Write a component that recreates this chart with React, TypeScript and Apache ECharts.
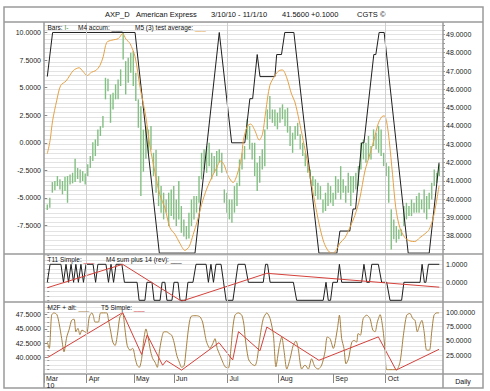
import React, { useEffect, useRef } from "react";
import * as echarts from "echarts";

const FONT = '"Liberation Sans", Arial, Helvetica, sans-serif';

// ---- price bars (right axis, top panel), one per trading day in order ----
const barHigh = [
  39.71, 40.07, 40.93, 40.99, 41.26, 41.08, 40.99, 41.22, 41.26, 41.35,
  41.44, 42.2, 41.7, 41.62, 41.53, 41.4, 41.9, 42.35, 43.1, 43.26,
  43.8, 43.99, 44.54, 46.63, 46.58, 45.72, 45.81, 46.27, 46.54, 47.09,
  49.09, 47.54, 47.73, 48.0, 48.09, 46.9, 45.45, 45.08, 43.8, 44.0,
  43.8, 44.0, 42.53, 42.7, 41.26, 40.71, 40.35, 39.98, 40.35, 40.53,
  40.71, 39.98, 40.99, 39.62, 38.89, 38.53, 39.26, 39.98, 40.17, 40.17,
  41.26, 42.53, 42.72, 42.9, 43.08, 42.53, 42.35, 42.63, 42.72, 42.53,
  40.53, 40.35, 39.98, 39.98, 40.71, 40.9, 42.17, 42.53, 42.9, 44.36,
  44.0, 43.08, 43.08, 41.99, 42.35, 42.72, 43.81, 44.9, 45.63, 44.9,
  44.9, 44.72, 44.99, 45.18, 44.9, 44.99, 44.0, 43.63, 44.0, 44.17,
  43.54, 43.08, 42.53, 41.99, 41.62, 41.26, 41.08, 40.9, 40.71, 39.98,
  40.35, 40.9, 40.71, 40.35, 41.26, 41.08, 41.8, 41.08, 40.71, 41.44,
  41.26, 41.26, 41.44, 41.8, 43.08, 43.26, 43.08, 43.45, 42.9, 43.81,
  43.63, 44.0, 43.81, 42.53, 41.99, 41.8, 39.44, 38.89, 38.53, 38.34,
  38.34, 39.62, 39.8, 39.62, 39.98, 39.8, 40.17, 40.35, 39.98, 40.53,
  40.17, 40.35, 40.9, 41.62, 41.44, 41.9,
];
const barLow = [
  39.4, 39.53, 40.35, 40.49, 40.71, 40.53, 40.26, 40.44, 39.8, 40.8,
  40.86, 40.93, 41.1, 40.9, 40.99, 40.8, 41.26, 41.7, 42.08, 42.35,
  42.9, 43.45, 43.9, 45.45, 45.9, 44.17, 44.9, 45.45, 45.45, 46.18,
  47.63, 45.72, 46.36, 46.9, 46.18, 45.36, 43.9, 40.17, 41.5, 42.2,
  42.5, 42.7, 41.26, 40.35, 39.62, 39.26, 38.89, 39.26, 38.53, 39.07,
  38.89, 38.53, 38.89, 38.16, 37.95, 37.8, 37.85, 38.53, 38.89, 39.26,
  39.8, 41.08, 41.62, 41.44, 41.8, 41.08, 41.44, 41.26, 41.99, 41.44,
  39.8, 39.26, 38.89, 38.71, 39.26, 39.62, 40.71, 41.62, 42.17, 43.26,
  42.72, 42.17, 41.26, 40.44, 40.9, 41.62, 41.8, 43.81, 44.36, 44.17,
  44.0, 43.81, 44.17, 44.36, 44.0, 43.63, 42.9, 42.53, 43.26, 43.45,
  42.72, 42.35, 41.8, 41.44, 41.08, 40.71, 40.17, 39.98, 39.98, 39.26,
  39.35, 39.62, 39.8, 39.62, 39.98, 40.35, 39.98, 40.35, 39.8, 40.35,
  39.62, 40.35, 40.53, 40.71, 41.62, 42.17, 41.99, 42.17, 42.17, 42.9,
  42.72, 42.53, 42.35, 41.8, 41.26, 39.8, 37.25, 37.8, 37.62, 37.8,
  37.98, 38.53, 38.89, 39.07, 39.07, 39.26, 39.26, 39.26, 39.44, 39.26,
  38.89, 39.44, 39.98, 40.71, 40.9, 41.26,
];

// ---- top panel oscillators (left axis), [bar index, value] ----
const m4Accum = [
  [0, 6], [2.1, 10], [34.7, 10], [44.3, -10], [58.4, -10], [68, 10], [72.9, 0], [78.1, 0],
  [80.1, 4], [81.2, 4], [83, 8], [84.1, 6], [90, 6], [90.7, 8], [92.6, 8], [93.9, 10],
  [97.5, 10], [107.4, -10], [114.5, -10], [115.7, -8], [119.6, -8], [120.9, -6], [121.9, -6],
  [124.3, 0], [125.2, 0], [129.1, 8], [129.9, 8], [131.2, 10], [133.2, 10], [142.7, -10],
  [151, -10], [154.9, -1.8],
];
const m5TestAvg = [
  [0, -1.0], [1.1, 0.2], [2.1, 2.0], [3.7, 3.8], [5.3, 5.2], [7.4, 5.6], [10.3, 6.55],
  [12.6, 6.8], [14.0, 6.5], [15.8, 6.1], [17.5, 6.4], [19.2, 6.55], [20.8, 7.0], [22.1, 7.8],
  [23.5, 9.1], [25.5, 9.3], [28.1, 9.45], [29.8, 9.9], [31.1, 9.4], [32.7, 9.0], [34.7, 7.8],
  [36.7, 5.0], [38.2, 3.3], [39.0, 2.3], [40.6, -0.3], [42.6, -2.7], [44.5, -4.7], [46.5, -5.9],
  [48.5, -7.7], [50.5, -8.3], [52.4, -9.1], [54.4, -9.75], [56.1, -9.4], [57.7, -8.3],
  [59.3, -7.1], [61.0, -5.6], [63.0, -4.2], [65.0, -3.15], [67.0, -2.25], [68.5, -1.65],
  [69.8, -1.95], [71.5, -3.0], [73.5, -3.6], [75.1, -2.85], [76.8, -1.3], [77.5, 0.2],
  [79.1, 1.5], [80.4, 1.7], [82.1, 1.1], [83.8, 0.25], [85.1, 0.8], [86.4, 2.9], [88.0, 5.2],
  [90.0, 6.1], [91.7, 6.55], [93.0, 6.6], [94.6, 5.95], [96.6, 4.4], [97.9, 3.7], [99.6, 2.0],
  [101.2, 0.2], [102.8, -1.65], [104.5, -3.75], [106.2, -5.9], [107.8, -7.7], [109.4, -9.05],
  [111.1, -9.8], [112.8, -10.05], [114.4, -9.65], [115.7, -9.1], [117.7, -8.6], [119.6, -7.7],
  [121.6, -6.6], [123.6, -5.0], [125.6, -2.55], [127.6, -1.0], [129.1, 0.2], [130.8, 1.7],
  [132.2, 2.35], [133.2, 2.45], [134.1, 2.0], [135.2, 0.2], [136.5, -2.85], [137.8, -5.9],
  [139.4, -7.7], [141.4, -8.6], [143.4, -8.9], [145.3, -8.95], [147.3, -8.6], [149.3, -8.25],
  [151.0, -7.85], [152.6, -6.8], [153.9, -5.3], [154.9, -3.9],
];

// ---- middle panel ----
const m4SumPlus14 = [
  [0, 0], [1.1, 1], [5.4, 1], [6.4, 0], [7.4, 1], [8.4, 0], [9.4, 1], [10.4, 0], [11.3, 1],
  [12.3, 0], [13.3, 1], [14.3, 0], [15.3, 1], [18.1, 1], [19.1, 0], [20.0, 1], [23.2, 1],
  [24.2, 0], [25.2, 1], [26.2, 0], [27.2, 1], [29.5, 1], [30.5, 0], [35.5, 0], [36.3, -1],
  [38.6, -1], [39.4, 0], [41.4, 0], [42.2, -1], [44.6, -1], [45.4, 0], [46.5, 0], [47.3, -1],
  [49.3, -1], [50.1, 0], [51.7, 0], [52.5, -1], [54.8, -1], [55.6, 0], [57.6, 0], [58.8, 1],
  [62.8, 1], [63.7, 0], [64.7, 1], [65.7, 0], [66.7, 1], [68.7, 1], [69.7, 0], [70.7, -1],
  [73.4, -1], [74.4, 0], [75.4, 1], [78.2, 1], [79.5, 0], [85.4, 0], [86.3, 1], [87.1, 1],
  [88.1, 0], [97.3, 0], [98.6, -1], [109.1, -1], [110.2, 0], [111.1, -1], [112.0, -1],
  [112.9, 0], [114.7, 0], [115.5, 1], [116.4, 0], [124.3, 0], [125.2, 1], [126.3, 0],
  [127.4, 0], [128.3, 1], [130.9, 1], [132.2, 0], [134.2, 0], [135.5, -1], [140.1, -1],
  [141.0, 0], [147.4, 0], [148.2, 1], [149.1, 0], [149.7, 0], [150.7, 1], [155.0, 1],
];
const t11Simple = [[0, -0.3], [29.8, 1.0], [53.1, -1.05], [86.8, 0.5], [155.0, -0.27]];

// ---- bottom panel ----
const m2fAlt = [
  [0, 48], [0.8, 37], [1.7, 95], [2.6, 99], [3.8, 96], [4.7, 80], [5.7, 54], [6.6, 31],
  [7.7, 57], [8.7, 71], [9.6, 86], [10.6, 88], [11.3, 66], [12.1, 72], [12.9, 61], [13.7, 69],
  [14.5, 67], [15.6, 64], [16.6, 92], [17.6, 99], [18.2, 94], [18.9, 83], [20.2, 83],
  [21.1, 99], [23.5, 99], [24.1, 89], [25.1, 66], [25.9, 48], [26.8, 42], [27.7, 60],
  [28.7, 92], [29.8, 98], [30.7, 71], [31.6, 42], [32.7, 34], [33.8, 37], [34.8, 19],
  [35.6, 7], [36.4, 4], [37.3, 19], [38.2, 54], [39.0, 71], [39.9, 55], [40.9, 31],
  [41.7, 19], [42.6, 13], [43.5, 4], [44.3, 31], [45.2, 54], [46.1, 66], [47.2, 66],
  [48.2, 63], [49.2, 60], [50.1, 48], [51.2, 25], [52.2, 13], [53.1, 4], [54.1, 7],
  [54.8, 31], [55.8, 71], [56.7, 92], [57.7, 94], [59.1, 94], [60.4, 92], [61.4, 83],
  [62.4, 60], [63.0, 48], [64.3, 37], [65.4, 45], [66.3, 54], [67.2, 37], [68.3, 25],
  [69.4, 13], [70.3, 5], [71.6, 3], [72.5, 31], [73.3, 71], [74.2, 95], [75.5, 99],
  [76.9, 95], [77.8, 77], [78.2, 57], [79.5, 19], [80.8, 10], [82.1, 7], [83.0, 19],
  [84.1, 57], [85.4, 89], [86.8, 99], [88.1, 89], [89.4, 60], [90.4, 5], [91.7, 40],
  [92.7, 57], [93.6, 33], [94.7, 1], [96.0, 19], [97.2, 42], [98.3, 50], [99.2, 37],
  [100.6, 1], [101.9, 8], [103.2, 1], [104.5, 19], [105.8, 5], [107.1, 1], [108.5, 8],
  [109.8, 31], [110.7, 57], [111.8, 54], [113.1, 37], [114.7, 71], [115.5, 95], [116.4, 54],
  [117.3, 37], [118.1, 10], [119.1, 19], [120.4, 48], [121.3, 51], [122.3, 48], [122.9, 63],
  [123.8, 60], [124.9, 89], [126.3, 95], [127.6, 89], [128.7, 69], [129.6, 66], [130.5, 83],
  [131.6, 96], [132.7, 71], [133.5, 37], [134.2, 0], [135.9, 0], [138.1, 0], [139.5, 14],
  [140.8, 60], [142.1, 95], [143.4, 98], [144.5, 89], [145.4, 86], [146.3, 66], [147.4, 80],
  [148.1, 86], [149.0, 66], [150.0, 34], [151.1, 34], [152.0, 66], [152.9, 95], [154.0, 99],
  [154.9, 99],
];
const t5Simple = [
  [0, 40.0], [29.8, 47.8], [37.3, 40.55], [39.5, 43.95], [45.6, 38.7], [47.1, 39.5],
  [53.1, 37.85], [67.9, 42.6], [73.3, 39.6], [75.6, 44.5], [84.1, 41.2], [86.8, 45.3],
  [107.4, 39.55], [130.9, 43.6], [137.9, 37.85], [154.9, 41.45],
];

// ---- axes: month ticks, quarter lines, tick labels ----
const monthNames = ["Mar", "Apr", "May", "Jun", "Jul", "Aug", "Sep", "Oct"];
const monthPos = [-1.3, 15.6, 34.3, 50.1, 71.3, 91.3, 113.1, 133.8];
const quarterPos = [15.6, 71.3, 133.8];
const topLeftLabels = [-7.5, -5, -2.5, 0, 2.5, 5, 7.5, 10];
const midRightLabels = [0, 1];
const midGridVals = [-1, -0.75, -0.5, -0.25, 0, 0.25, 0.5, 0.75, 1, 1.25, 1.5];
const botLeftLabels = [40, 42.5, 45, 47.5];
const botRightLabels = [25, 50, 75, 100];
const botGridVals = [0, 8.333, 16.667, 25, 33.333, 41.667, 50, 58.333, 66.667, 75, 83.333, 91.667, 100, 108.333, 116.667];

const titleParts = [
  { t: "AXP_D", x: 105 },
  { t: "American Express", x: 136 },
  { t: "3/10/10 - 11/1/10", x: 211 },
  { t: "41.5600", x: 282 },
  { t: "+0.1000", x: 311 },
  { t: "CGTS \u00a9", x: 357 },
];

export default function App() {
  const ref = useRef<HTMLDivElement>(null);
  useEffect(() => {
    if (!ref.current) return;
    const chart = echarts.init(ref.current, undefined, { renderer: "svg" });
    const X_MIN = -1.3;
    const X_MAX = 156.46;
    const fmt4 = (v: any) => Number(v).toFixed(4);
    const labelStyle = { fontSize: 7, color: "#222", fontFamily: FONT };
    const gridLineStyle = { color: "#e3e3e3", width: 1 };

    const qAxis = (gi: number) => ({
      type: "value",
      gridIndex: gi,
      position: gi === 2 ? "top" : "bottom",
      min: X_MIN,
      max: X_MAX,
      axisLine: { show: false },
      axisLabel: { show: false },
      axisTick: { show: false },
      splitLine: { show: false },
    });

    const quarterLines = {
      silent: true,
      symbol: ["none", "none"],
      label: { show: false },
      lineStyle: { color: "#d0d0d0", width: 1, type: "solid" },
      emphasis: { disabled: true },
      data: quarterPos.map((v) => ({ xAxis: v })),
    };

    const lineS = (name: string, data: any, xi: number, yi: number, color: string, extra: any = {}) => ({
      name,
      type: "line",
      xAxisIndex: xi,
      yAxisIndex: yi,
      data,
      symbol: "none",
      lineStyle: { color, width: 1 },
      itemStyle: { color },
      z: 3,
      ...extra,
    });

    const hline = (x1: number, y1: number, x2: number, y2: number, w = 1.5) => ({
      type: "line",
      shape: { x1, y1, x2, y2 },
      style: { stroke: "#9a9a9a", lineWidth: w },
      z: 100,
      silent: true,
    });
    const txt = (text: string, x: number, y: number, size: number, rich?: any, align = "left") => ({
      type: "text",
      x,
      y,
      z: 101,
      silent: true,
      style: {
        text,
        fill: "#111",
        fontSize: size,
        fontFamily: FONT,
        align,
        verticalAlign: "middle",
        rich,
      },
    });
    const u = (c: string) => ({ fill: c, fontSize: 6.5, fontFamily: FONT });

    const option: any = {
      animation: false,
      backgroundColor: "#ffffff",
      grid: [
        { left: 44, top: 22, width: 399, height: 232 },
        { left: 44, top: 254, width: 399, height: 48 },
        { left: 44, top: 302, width: 399, height: 72 },
      ],
      xAxis: [
        qAxis(0),
        qAxis(1),
        qAxis(2),
        {
          type: "value",
          gridIndex: 2,
          position: "bottom",
          min: X_MIN,
          max: X_MAX,
          axisLine: { show: true, lineStyle: { color: "#9a9a9a", width: 1.5 } },
          axisTick: { show: true, customValues: monthPos, length: 9, lineStyle: { color: "#888" } },
          axisLabel: {
            show: true,
            customValues: monthPos,
            align: "left",
            margin: 1,
            padding: [0, 0, 0, 2],
            ...labelStyle,
            formatter: (v: number) => {
              const i = monthPos.findIndex((p) => Math.abs(p - v) < 0.01);
              return i >= 0 ? monthNames[i] : "";
            },
          },
          splitLine: { show: false },
        },
      ],
      yAxis: [
        {
          type: "value",
          gridIndex: 0,
          position: "left",
          min: -10.08,
          max: 10.95,
          axisLine: { show: false },
          axisTick: { show: true, customValues: topLeftLabels, length: 3, lineStyle: { color: "#888" } },
          axisLabel: { customValues: topLeftLabels, formatter: fmt4, margin: 3, ...labelStyle },
          splitLine: { show: false },
        },
        {
          type: "value",
          gridIndex: 0,
          position: "right",
          min: 37,
          max: 49.678,
          interval: 0.25,
          axisLine: { show: false },
          axisTick: { show: true, length: 2, lineStyle: { color: "#999" } },
          axisLabel: {
            showMinLabel: false,
            showMaxLabel: false,
            margin: 3,
            ...labelStyle,
            formatter: (v: number) => (Math.abs(v - Math.round(v)) < 1e-6 ? fmt4(v) : ""),
          },
          splitLine: { show: true, lineStyle: gridLineStyle },
        },
        {
          type: "value",
          gridIndex: 1,
          position: "right",
          min: -1.094,
          max: 1.572,
          axisLine: { show: false },
          axisTick: { show: true, customValues: midGridVals, length: 2, lineStyle: { color: "#999" } },
          axisLabel: { customValues: midRightLabels, formatter: fmt4, margin: 3, ...labelStyle },
          splitLine: { show: true, lineStyle: gridLineStyle },
        },
        {
          type: "value",
          gridIndex: 2,
          position: "left",
          min: 37.18,
          max: 49.63,
          axisLine: { show: false },
          axisTick: { show: true, customValues: botLeftLabels, length: 3, lineStyle: { color: "#888" } },
          axisLabel: { customValues: botLeftLabels, formatter: fmt4, margin: 3, ...labelStyle },
          splitLine: { show: false },
        },
        {
          type: "value",
          gridIndex: 2,
          position: "right",
          min: -7.6,
          max: 117.97,
          axisLine: { show: false },
          axisTick: { show: true, customValues: botGridVals, length: 2, lineStyle: { color: "#999" } },
          axisLabel: { customValues: botRightLabels, formatter: fmt4, margin: 3, ...labelStyle },
          splitLine: { show: true, lineStyle: gridLineStyle },
        },
      ],
      series: [
        {
          name: "Bars",
          type: "custom",
          xAxisIndex: 0,
          yAxisIndex: 1,
          z: 2,
          data: barHigh.map((h, i) => [i, h, barLow[i]]),
          encode: { x: 0, y: [1, 2] },
          markLine: quarterLines,
          renderItem: (params: any, api: any) => {
            const x = api.value(0);
            const hi = api.coord([x, api.value(1)]);
            const lo = api.coord([x, api.value(2)]);
            return {
              type: "line",
              shape: { x1: hi[0], y1: hi[1], x2: lo[0], y2: lo[1] },
              style: { stroke: "#83bf83", lineWidth: 1.4 },
            };
          },
        },
        lineS("M4 accum", m4Accum, 0, 0, "#1e1e1e"),
        lineS("M5 (3) test average", m5TestAvg, 0, 0, "#e6a043", { smooth: 0.3 }),
        lineS("M4 sum plus 14 (rev)", m4SumPlus14, 1, 2, "#1e1e1e", { markLine: quarterLines }),
        lineS("T11 Simple", t11Simple, 1, 2, "#d4403a"),
        lineS("M2F + alt", m2fAlt, 2, 4, "#a8803e", { smooth: 0.25, markLine: quarterLines }),
        lineS("T5 Simple", t5Simple, 2, 3, "#d4403a"),
      ],
      graphic: {
        elements: [
          {
            type: "rect",
            shape: { x: 4, y: 7, width: 479, height: 381 },
            style: { fill: "none", stroke: "#9a9a9a", lineWidth: 1.5 },
            z: 100,
            silent: true,
          },
          hline(4, 22, 483, 22),
          hline(4, 254, 483, 254),
          hline(4, 302, 483, 302),
          hline(443, 374, 483, 374),
          hline(44, 22, 44, 388),
          hline(443, 22, 443, 388),
          ...titleParts.map((p) => txt(p.t, p.x, 14.5, 7.5)),
          txt("Bars: {g|I-}", 47.5, 27.5, 6.5, { g: u("#3a8f3a") }),
          txt("M4 accum: {k|___}", 78, 27.5, 6.5, { k: u("#1e1e1e") }),
          txt("M5 (3) test average: {o|___}", 135, 27.5, 6.5, { o: u("#e6a043") }),
          txt("T11 Simple: {r|___}", 47.5, 259.5, 6.5, { r: u("#d4403a") }),
          txt("M4 sum plus 14 (rev): {k|___}", 106, 259.5, 6.5, { k: u("#1e1e1e") }),
          txt("M2F + alt: {b|___}", 47.5, 307.5, 6.5, { b: u("#a8803e") }),
          txt("T5 Simple: {r|___}", 101, 307.5, 6.5, { r: u("#d4403a") }),
          txt("10", 46.5, 385, 7),
          txt("Daily", 463, 381, 7, undefined, "center"),
        ],
      },
    };
    chart.setOption(option);
    return () => chart.dispose();
  }, []);
  return (
    <div
      ref={ref}
      style={{ position: "fixed", left: 0, top: 0, width: 490, height: 391, background: "#fff" }}
    />
  );
}
